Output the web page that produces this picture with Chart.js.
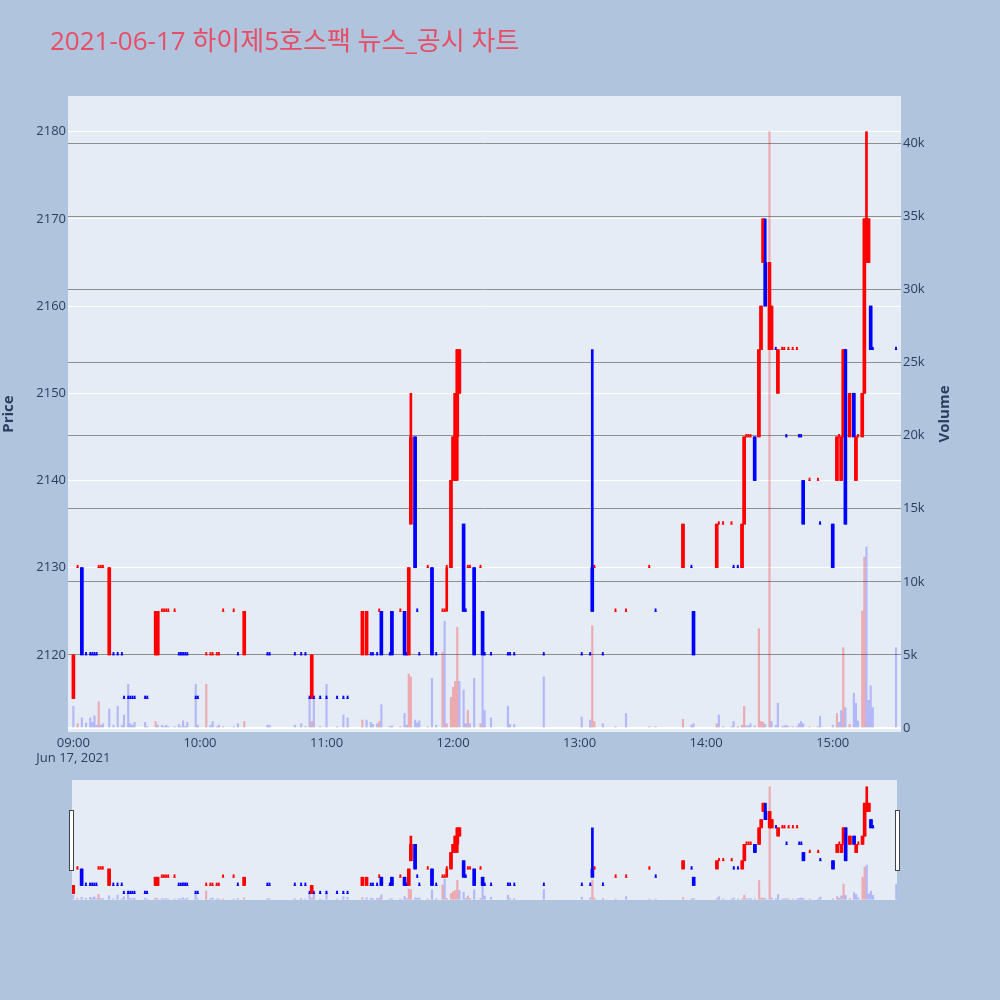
<!DOCTYPE html>
<html>
<head>
<meta charset="utf-8">
<script src="https://cdn.jsdelivr.net/npm/chart.js@4.4.1/dist/chart.umd.min.js"></script>
<style>
  html, body { margin: 0; padding: 0; background: #b0c4de; }
  #wrap { position: relative; width: 1000px; height: 1000px; }
  #main { position: absolute; left: 0; top: 0; }
  #slider { position: absolute; left: 60px; top: 775px; }
</style>
</head>
<body>
<div id="wrap">
  <canvas id="main" width="1000" height="780"></canvas>
  <canvas id="slider" width="850" height="135"></canvas>
</div>
<script>
// 1-minute candles, 2021-06-17 (only minutes with trades)
const times = [
  '09:00','09:02','09:04','09:06','09:08','09:09','09:10','09:11','09:12','09:13',
  '09:14','09:17','09:19','09:21','09:23','09:24','09:26','09:27','09:28','09:29',
  '09:34','09:35','09:39','09:40','09:42','09:43','09:44','09:45','09:48','09:50',
  '09:51','09:52','09:53','09:54','09:58','09:59','10:03','10:05','10:06','10:08',
  '10:09','10:11','10:16','10:18','10:21','10:32','10:33','10:45','10:48','10:50',
  '10:52','10:53','10:54','10:57','11:00','11:05','11:08','11:10','11:17','11:19',
  '11:21','11:22','11:24','11:25','11:26','11:30','11:31','11:35','11:37','11:38',
  '11:39','11:40','11:42','11:43','11:44','11:48','11:50','11:52','11:55','11:56',
  '11:57','11:59','12:00','12:01','12:02','12:03','12:05','12:06','12:07','12:08',
  '12:10','12:13','12:14','12:15','12:18','12:26','12:27','12:29','12:43','13:01',
  '13:05','13:06','13:07','13:11','13:17','13:22','13:33','13:36','13:49','13:53',
  '13:54','14:05','14:06','14:08','14:12','14:13','14:15','14:17','14:18','14:19',
  '14:20','14:21','14:23','14:25','14:26','14:27','14:28','14:30','14:31','14:33',
  '14:34','14:36','14:37','14:38','14:39','14:41','14:43','14:44','14:45','14:46',
  '14:49','14:53','14:54','15:00','15:02','15:03','15:04','15:05','15:06','15:08',
  '15:10','15:11','15:12','15:14','15:15','15:16','15:17','15:18','15:19','15:30'
];
const open = [
  2115,2130,2130,2120,2120,2120,2120,2120,2130,2130,
  2130,2120,2120,2120,2120,2115,2115,2115,2115,2115,
  2115,2115,2120,2120,2125,2125,2125,2125,2125,2120,
  2120,2120,2120,2120,2115,2115,2120,2120,2120,2120,
  2120,2125,2125,2120,2120,2120,2120,2120,2120,2120,
  2115,2115,2115,2115,2115,2115,2115,2115,2120,2120,
  2120,2120,2120,2125,2125,2120,2125,2125,2125,2120,
  2120,2135,2145,2125,2120,2130,2130,2120,2125,2125,
  2130,2130,2140,2140,2145,2150,2135,2125,2130,2130,
  2130,2130,2125,2120,2120,2120,2120,2120,2120,2120,
  2120,2130,2130,2120,2125,2125,2130,2125,2130,2130,
  2125,2130,2135,2135,2135,2130,2130,2130,2135,2145,
  2145,2145,2145,2145,2155,2165,2165,2155,2155,2155,
  2150,2155,2155,2145,2155,2155,2155,2145,2145,2140,
  2140,2140,2135,2135,2140,2145,2140,2145,2155,2145,
  2150,2140,2145,2145,2150,2165,2165,2160,2155,2155
];
const high = [
  2120,2130,2130,2120,2120,2120,2120,2120,2130,2130,
  2130,2130,2120,2120,2120,2115,2115,2115,2115,2115,
  2115,2115,2125,2125,2125,2125,2125,2125,2125,2120,
  2120,2120,2120,2120,2115,2115,2120,2120,2120,2120,
  2120,2125,2125,2120,2125,2120,2120,2120,2120,2120,
  2115,2120,2115,2115,2115,2115,2115,2115,2125,2125,
  2120,2120,2120,2125,2125,2120,2125,2125,2125,2120,
  2130,2150,2145,2125,2120,2130,2130,2120,2125,2125,
  2130,2140,2145,2150,2155,2155,2135,2125,2130,2130,
  2130,2130,2125,2120,2120,2120,2120,2120,2120,2120,
  2120,2155,2130,2120,2125,2125,2130,2125,2135,2130,
  2125,2135,2135,2135,2135,2130,2130,2135,2145,2145,
  2145,2145,2145,2155,2160,2170,2170,2165,2160,2155,
  2155,2155,2155,2145,2155,2155,2155,2145,2145,2140,
  2140,2140,2135,2135,2145,2145,2145,2155,2155,2150,
  2150,2145,2145,2150,2170,2180,2170,2160,2155,2155
];
const low = [
  2115,2130,2120,2120,2120,2120,2120,2120,2130,2130,
  2130,2120,2120,2120,2120,2115,2115,2115,2115,2115,
  2115,2115,2120,2120,2125,2125,2125,2125,2125,2120,
  2120,2120,2120,2120,2115,2115,2120,2120,2120,2120,
  2120,2125,2125,2120,2120,2120,2120,2120,2120,2120,
  2115,2115,2115,2115,2115,2115,2115,2115,2120,2120,
  2120,2120,2120,2125,2120,2120,2120,2125,2120,2120,
  2120,2135,2130,2125,2120,2130,2120,2120,2125,2125,
  2125,2130,2140,2140,2140,2150,2125,2125,2130,2130,
  2120,2130,2120,2120,2120,2120,2120,2120,2120,2120,
  2120,2125,2130,2120,2125,2125,2130,2125,2130,2130,
  2120,2130,2135,2135,2135,2130,2130,2130,2135,2145,
  2145,2145,2140,2145,2155,2165,2160,2155,2155,2155,
  2150,2155,2155,2145,2155,2155,2155,2145,2145,2135,
  2140,2140,2135,2130,2140,2145,2140,2145,2135,2145,
  2145,2140,2145,2145,2150,2165,2165,2155,2155,2155
];
const close = [
  2120,2130,2120,2120,2120,2120,2120,2120,2130,2130,
  2130,2130,2120,2120,2120,2115,2115,2115,2115,2115,
  2115,2115,2125,2125,2125,2125,2125,2125,2125,2120,
  2120,2120,2120,2120,2115,2115,2120,2120,2120,2120,
  2120,2125,2125,2120,2125,2120,2120,2120,2120,2120,
  2115,2120,2115,2115,2115,2115,2115,2115,2125,2125,
  2120,2120,2120,2125,2120,2120,2120,2125,2120,2120,
  2130,2145,2130,2125,2120,2130,2120,2120,2125,2125,
  2130,2140,2145,2150,2155,2155,2125,2125,2130,2130,
  2120,2130,2120,2120,2120,2120,2120,2120,2120,2120,
  2120,2125,2130,2120,2125,2125,2130,2125,2135,2130,
  2120,2135,2135,2135,2135,2130,2130,2135,2145,2145,
  2145,2145,2140,2155,2160,2170,2160,2165,2160,2155,
  2155,2155,2155,2145,2155,2155,2155,2145,2145,2135,
  2140,2140,2135,2130,2145,2145,2145,2155,2135,2150,
  2145,2145,2145,2150,2170,2170,2170,2155,2155,2155
];
const volume = [
  1500,300,700,350,700,400,850,200,1800,200,
  300,1300,200,1500,200,900,3000,300,200,400,
  400,100,450,200,200,100,200,100,100,250,
  100,500,100,400,3000,200,3000,200,450,100,
  200,100,100,300,450,200,200,200,300,100,
  2200,450,2200,100,3000,100,900,700,550,550,
  400,250,300,450,1600,100,150,100,1000,200,
  3700,3500,550,350,500,100,3400,200,5200,7300,
  300,2100,2800,3200,6900,3200,2600,300,1200,300,
  3400,300,5400,1200,700,1500,250,250,3500,750,
  550,7000,450,300,100,1000,100,100,600,200,
  300,300,900,100,100,450,100,200,1500,150,
  150,300,150,6800,450,400,250,40800,450,200,
  1700,100,150,200,100,100,100,300,450,300,
  100,100,800,200,1000,400,1200,5500,1400,250,
  2400,1700,500,8000,11700,12400,1900,2900,1400,5500
];
const priceTicks = [2120, 2130, 2140, 2150, 2160, 2170, 2180];
const volumeTicks = [0, 5000, 10000, 15000, 20000, 25000, 30000, 35000, 40000];
const hourTicks = [0, 60, 120, 180, 240, 300, 360];

const titleText = '2021-06-17 하이제5호스팩 뉴스_공시 차트';
const FONT = '"Open Sans", "Noto Sans CJK KR", sans-serif';
const INK = '#2a3f5f';

// minutes after 09:00
const xs = times.map(t => {
  const [h, m] = t.split(':').map(Number);
  return (h - 9) * 60 + m;
});

// candle direction: close vs open, ties decided by previous close, then previous direction
const candleUp = [];
close.forEach((c, i) => {
  const o = open[i];
  let up;
  if (c > o) up = true;
  else if (c < o) up = false;
  else if (i === 0) up = true;
  else if (c > close[i - 1]) up = true;
  else if (c < close[i - 1]) up = false;
  else up = candleUp[i - 1];
  candleUp.push(up);
});
// volume colour: close higher than previous close
const volUp = close.map((c, i) => i > 0 && c > close[i - 1]);

const candleColors = candleUp.map(u => u ? '#ff0000' : '#0000ff');
const volColors = volUp.map(u => u ? 'rgba(255,0,0,0.28)' : 'rgba(0,0,255,0.22)');
const isDoji = open.map((o, i) => o === close[i]);

const makeDatasets = () => [
  {
    label: 'Volume',
    yAxisID: 'y2',
    data: xs.map((x, i) => ({ x, y: volume[i] })),
    backgroundColor: volColors,
    barThickness: 1.5,
    grouped: false
  },
  {
    label: 'wick',
    yAxisID: 'y',
    data: xs.map((x, i) => ({ x, y: [low[i], high[i]] })),
    backgroundColor: candleColors,
    barThickness: 2,
    grouped: false
  },
  {
    label: 'body',
    yAxisID: 'y',
    data: xs.map((x, i) => ({ x, y: isDoji[i] ? null : [Math.min(open[i], close[i]), Math.max(open[i], close[i])] })),
    backgroundColor: candleColors,
    barThickness: 3,
    grouped: false
  },
  {
    label: 'doji',
    yAxisID: 'y',
    data: xs.map((x, i) => ({ x, y: isDoji[i] ? [open[i], close[i]] : null })),
    backgroundColor: candleColors,
    barThickness: 1.2,
    minBarLength: 2.5,
    grouped: false
  }
];

const plotBg = {
  id: 'plotBg',
  beforeDraw(chart) {
    const { ctx, chartArea: a } = chart;
    ctx.save();
    ctx.fillStyle = '#e5ecf6';
    ctx.fillRect(a.left, a.top, a.right - a.left, a.bottom - a.top);
    ctx.restore();
  }
};

const pageText = {
  id: 'pageText',
  afterDraw(chart) {
    const ctx = chart.ctx;
    ctx.save();
    ctx.fillStyle = '#e84d66';
    ctx.font = '26px ' + FONT;
    ctx.textBaseline = 'alphabetic';
    ctx.fillText(titleText, 50, 50);
    // right axis title, reads bottom to top like the left one
    ctx.translate(945, (chart.chartArea.top + chart.chartArea.bottom) / 2);
    ctx.rotate(-Math.PI / 2);
    ctx.fillStyle = INK;
    ctx.font = 'bold 15px ' + FONT;
    ctx.textAlign = 'center';
    ctx.textBaseline = 'middle';
    ctx.fillText('Volume', 0, 0);
    ctx.restore();
  }
};

const handles = {
  id: 'handles',
  afterDraw(chart) {
    const { ctx, chartArea: a } = chart;
    ctx.save();
    ctx.fillStyle = '#fff';
    ctx.strokeStyle = '#444';
    ctx.lineWidth = 1;
    [a.left - 2.5, a.right - 1.5].forEach(x => {
      ctx.fillRect(x, a.top + 30.5, 4, 60);
      ctx.strokeRect(x, a.top + 30.5, 4, 60);
    });
    ctx.restore();
  }
};

Chart.defaults.font.family = FONT;
Chart.defaults.font.size = 13;
Chart.defaults.color = INK;

const hhmm = v => {
  const h = 9 + Math.floor(v / 60), m = v % 60;
  return String(h).padStart(2, '0') + ':' + String(m).padStart(2, '0');
};

new Chart(document.getElementById('main'), {
  type: 'bar',
  data: { datasets: makeDatasets() },
  options: {
    responsive: false,
    animation: false,
    layout: { padding: { top: 96, left: 0, right: 0, bottom: 0 } },
    plugins: { legend: { display: false }, tooltip: { enabled: false } },
    scales: {
      x: {
        type: 'linear',
        min: -2.56,
        max: 392.37,
        offset: false,
        afterFit: s => { s.height = 48; },
        afterBuildTicks: s => { s.ticks = hourTicks.map(value => ({ value })); },
        grid: { display: false, drawTicks: false },
        border: { display: false },
        ticks: {
          padding: 3,
          maxRotation: 0,
          autoSkip: false,
          callback: v => v === 0 ? [hhmm(v), 'Jun 17, 2021'] : hhmm(v)
        }
      },
      y: {
        position: 'left',
        min: 2111.16,
        max: 2184.09,
        afterFit: s => { s.width = 68; },
        afterBuildTicks: s => { s.ticks = priceTicks.map(value => ({ value })); },
        grid: { color: '#ffffff', lineWidth: 1, drawTicks: false, z: -2 },
        border: { display: false },
        ticks: { padding: 2, callback: v => String(v) },
        title: {
          display: true,
          text: 'Price',
          font: { size: 15, weight: 'bold' },
          padding: { top: 0, bottom: 0 }
        }
      },
      y2: {
        position: 'right',
        min: -267,
        max: 43235,
        afterFit: s => { s.width = 99; },
        afterBuildTicks: s => { s.ticks = volumeTicks.map(value => ({ value })); },
        grid: {
          color: c => c.tick.value === 0 ? '#ffffff' : '#8f8f8f',
          lineWidth: c => c.tick.value === 0 ? 2 : 1,
          drawTicks: false
        },
        border: { display: false },
        ticks: {
          padding: 2,
          callback: v => v === 0 ? '0' : (v / 1000) + 'k'
        }
      }
    }
  },
  plugins: [plotBg, pageText]
});

new Chart(document.getElementById('slider'), {
  type: 'bar',
  data: { datasets: makeDatasets() },
  options: {
    responsive: false,
    animation: false,
    layout: { padding: { top: 5, left: 12, right: 13, bottom: 10 } },
    plugins: { legend: { display: false }, tooltip: { enabled: false } },
    scales: {
      x: { type: 'linear', min: -0.57, max: 390.33, offset: false, display: false },
      y: { min: 2111.16, max: 2184.09, display: false },
      y2: { min: -267, max: 43235, display: false }
    }
  },
  plugins: [plotBg, handles]
});
</script>
</body>
</html>
